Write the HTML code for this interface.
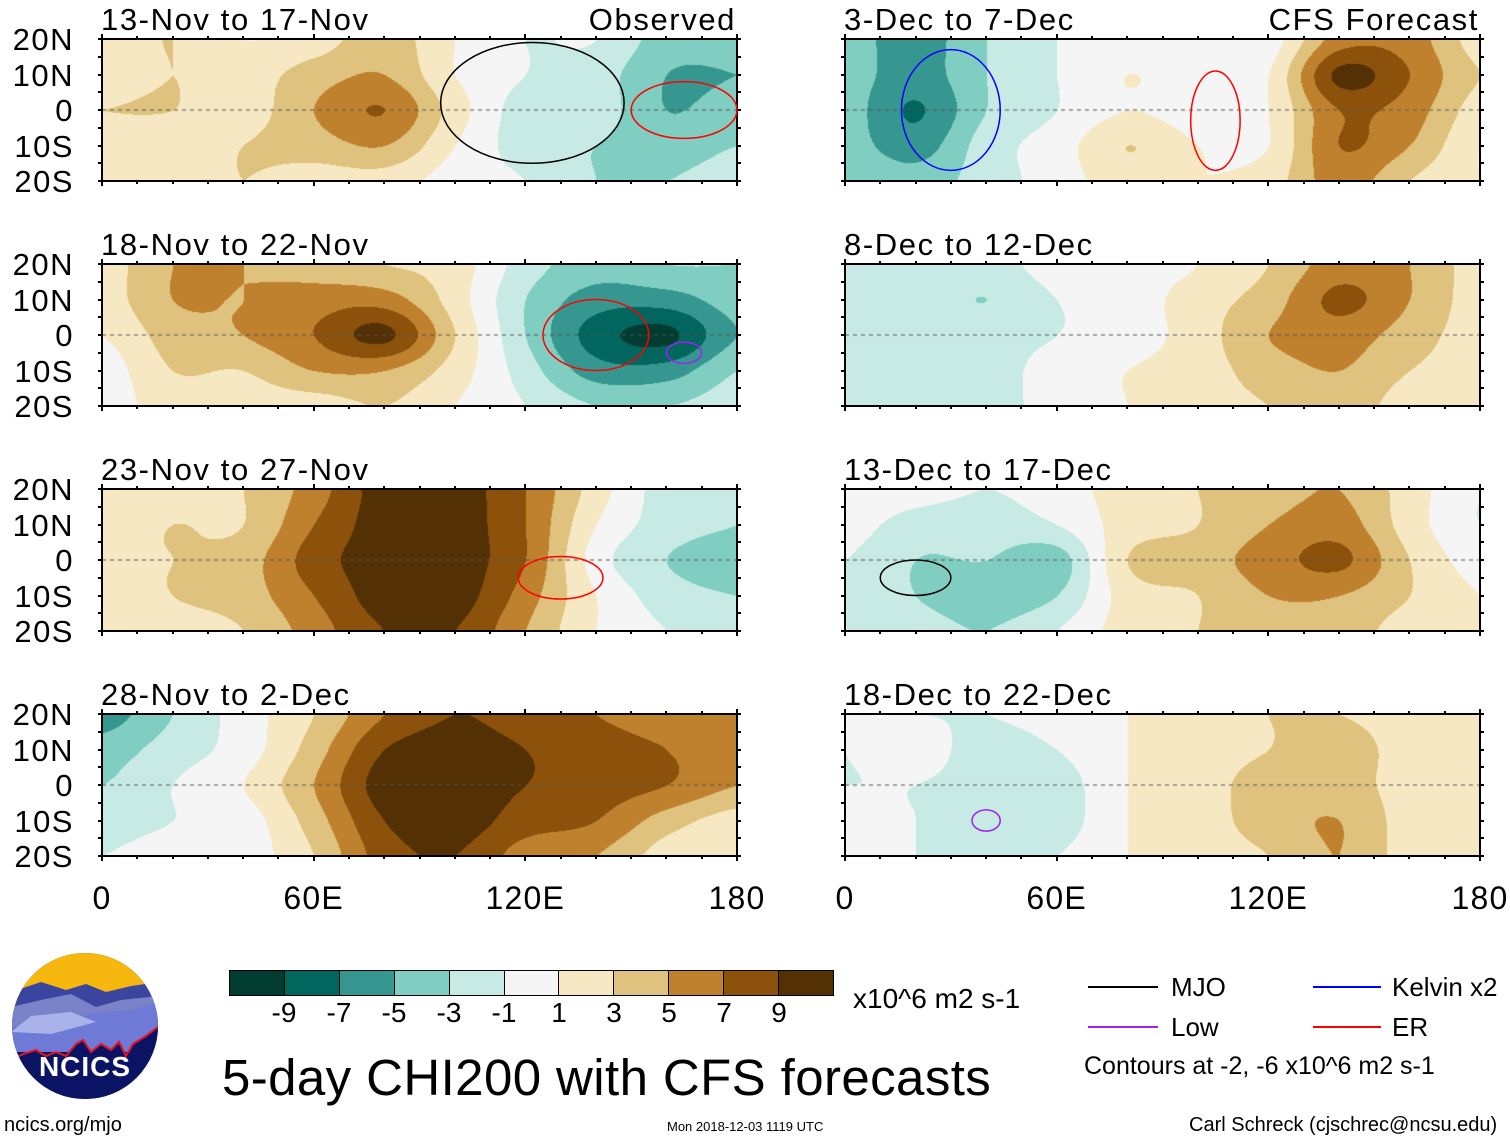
<!DOCTYPE html>
<html><head><meta charset="utf-8">
<style>
html,body{margin:0;padding:0;background:#fff;}
body{width:1510px;height:1142px;position:relative;overflow:hidden;font-family:"Liberation Sans",sans-serif;color:#000;}
.abs{position:absolute;white-space:nowrap;}
.frame{position:absolute;border:2px solid #000;box-sizing:border-box;}
.title{position:absolute;font-size:31px;line-height:31px;letter-spacing:1.6px;white-space:nowrap;}
.lat{position:absolute;font-size:31px;line-height:31px;width:74px;text-align:right;left:0;letter-spacing:1.5px;}
.xl{position:absolute;font-size:32px;line-height:32px;transform:translateX(-50%);top:882px;letter-spacing:1.2px;}
.cbl{position:absolute;font-size:28px;line-height:28px;top:999px;transform:translateX(-50%);}
.tk{position:absolute;background:#000;}
</style></head><body>
<div id="root"></div>
<svg id="lines" width="1510" height="1142" style="position:absolute;left:0;top:0;pointer-events:none"></svg>

<div id="cbar" class="abs" style="left:229px;top:970px;width:605px;height:26px;border:1px solid #000;box-sizing:border-box;display:flex"></div>
<div class="abs" style="left:853px;top:983px;font-size:28px">x10^6 m2 s-1</div>
<div class="abs" style="left:222px;top:1050px;font-size:51px;line-height:56px;letter-spacing:0.4px">5-day CHI200 with CFS forecasts</div>

<div class="abs" style="left:1088px;top:986px;width:70px;height:2px;background:#000"></div>
<div class="abs" style="left:1171px;top:972px;font-size:26px">MJO</div>
<div class="abs" style="left:1088px;top:1026px;width:70px;height:2px;background:#a020f0"></div>
<div class="abs" style="left:1171px;top:1012px;font-size:26px">Low</div>
<div class="abs" style="left:1313px;top:986px;width:68px;height:2px;background:#0000ff"></div>
<div class="abs" style="left:1392px;top:972px;font-size:26px">Kelvin x2</div>
<div class="abs" style="left:1313px;top:1026px;width:68px;height:2px;background:#ff0000"></div>
<div class="abs" style="left:1392px;top:1012px;font-size:26px">ER</div>
<div class="abs" style="left:1084px;top:1052px;font-size:25px">Contours at -2, -6 x10^6 m2 s-1</div>

<div class="abs" style="left:4px;top:1114px;font-size:20px">ncics.org/mjo</div>
<div class="abs" style="left:667px;top:1119px;font-size:13px">Mon 2018-12-03 1119 UTC</div>
<div class="abs" style="left:1189px;top:1114px;font-size:20px">Carl Schreck (cjschrec@ncsu.edu)</div>

<svg class="abs" style="left:11px;top:952px" width="148" height="150" viewBox="0 0 148 150">
<defs><clipPath id="cc"><circle cx="74" cy="74" r="73"/></clipPath></defs>
<g clip-path="url(#cc)">
<rect width="148" height="150" fill="#0b1464"/>
<rect width="148" height="70" fill="#f6b80e"/>
<path d="M0 40 L30 30 L55 38 L75 32 L95 40 L120 34 L148 30 L148 75 L0 75Z" fill="#3b45a0"/>
<path d="M0 55 L30 48 L60 42 L85 55 L110 48 L148 44 L148 85 L0 85Z" fill="#7a82c8"/>
<path d="M0 75 L40 66 L80 62 L120 58 L148 50 L148 100 L0 100Z" fill="#6f7ad6"/>
<path d="M0 80 L20 64 L60 60 L85 70 L40 82Z" fill="#a9b3ea"/>
<path d="M0 108 L12 102 L25 98 L35 104 L45 100 L55 104 L65 92 L72 88 L80 100 L90 92 L100 98 L108 90 L115 104 L122 92 L135 84 L148 74 L148 150 L0 150Z" fill="#0b1464" stroke="#e8141e" stroke-width="2"/>
</g>
<text x="74" y="124" text-anchor="middle" font-family="Liberation Sans" font-weight="bold" font-size="28" fill="#fff" letter-spacing="1">NCICS</text>
</svg>

<script>
const levelColors = ["#003c30","#01665e","#35978f","#80cdc1","#c7eae5","#f5f5f5","#f6e8c3","#dfc27d","#bf812d","#8c510a","#543005"];
const levelTicks = [-9,-7,-5,-3,-1,1,3,5,7,9];
const lonTicks = ["0","60E","120E","180"];
const latTicks = ["20N","10N","0","10S","20S"];
const gridLons = [0,20,40,60,80,100,120,140,160,180];
const gridLats = [20,10,0,-10,-20];
const panelTitles = ["13-Nov to 17-Nov","18-Nov to 22-Nov","23-Nov to 27-Nov","28-Nov to 2-Dec","3-Dec to 7-Dec","8-Dec to 12-Dec","13-Dec to 17-Dec","18-Dec to 22-Dec"];
const p1 = [[2,3,1,2,4,1,-1,-1,-4,-4],[2,3,2,4,5,1,-1,-2,-5,-5],[3,3,2,5,7,2,-2,-2,-5,-4],[2,2,3,4,5,1,-2,-3,-4,-3],[1,2,3,2,2,0,-1,-3,-3,-2]];
const p2 = [[2,5,5,4,3,2,-2,-4,-3,-3],[2,5,5,6,6,2,-3,-6,-6,-4],[1,4,5,7,9.5,3,-3,-8,-9.5,-5],[0,3,3,5,5,2,-2,-6,-6,-3],[0,2,2,2,3,1,-1,-3,-3,-2]];
const p3 = [[2,2,3,6,10,10,7,2,-2,-3],[2,3,3,7,10,10,7,1,-2,-3],[3,3,4,8,10,10,7,0,-3,-4],[2,3,4,7,10,10,6,1,-2,-3],[1,2,3,6,9,9,5,1,-1,-2]];
const p4 = [[-6,-3,0,3,7,9,8,7,6,6],[-4,-2,0,4,9,10,9,8,7,6],[-3,-1,1,5,10,10,9,8,7,5],[-2,-1,0,4,9,10,8,7,4,2],[-1,0,0,3,8,9,6,5,2,1]];
const p5 = [[-4,-6,-3,-1,0,0,0,6,6,2],[-4,-6,-3,-1,1,0,1,9.5,7,3],[-4,-7.2,-3,-1,1,0,1,7,6,2],[-4,-6,-2,0,3,1,1,7,5,1],[-3,-4,-2,0,2,1,2,6,3,1]];
const p6 = [[-2,-2,-2,0,0,1,3,6,5,2],[-2,-2,-3,-1,0,2,4,7.5,5,2],[-2,-2,-2,-1,0,2,5,6,4,2],[-2,-2,-2,0,1,2,4,5,3,2],[-1,-2,-2,0,1,2,3,4,2,1]];
const p7 = [[1,0,-1,0,2,3,4,5,2,-1],[0,-2,-2,-1,2,3,5,6,2,-1],[-1,-3,-3,-4,3,4,6,7.5,3,0],[-1,-3,-4,-3,2,3,5,5,3,1],[-1,-2,-3,-1,2,3,4,4,2,1]];
const p8 = [[-1,-1,-1,0,1,2,3,3,2,1],[-1,0,-2,-1,1,2,3,4,2,1],[-1,-1,-2,-2,1,2,4,4,2,1],[0,-1,-2,-2,1,2,4,5,2,1],[0,-1,-1,-1,1,2,3,5,2,1]];
const panelData = [p1,p2,p3,p4,p5,p6,p7,p8];

const W=635,H=142, colX=[102,845], rowY=[39,264,489,714];
function xScale(lon){return lon/180*W;}
function yScale(lat){return (20-lat)/40*H;}
function levelIndex(v){let i=0;while(i<levelTicks.length&&v>=levelTicks[i])i++;return i;}
function hex(c){return [parseInt(c.slice(1,3),16),parseInt(c.slice(3,5),16),parseInt(c.slice(5,7),16)];}
const rgb=levelColors.map(hex);
function cr(a,b,c,d,t){return 0.5*((2*b)+(-a+c)*t+(2*a-5*b+4*c-d)*t*t+(-a+3*b-3*c+d)*t*t*t);}
function sample(g,fx,fy){
  const nr=g.length,nc=g[0].length;
  const ix=Math.min(Math.floor(fx),nc-2),iy=Math.min(Math.floor(fy),nr-2);
  const tx=fx-ix,ty=fy-iy;
  const gv=(r,c)=>g[Math.max(0,Math.min(nr-1,r))][Math.max(0,Math.min(nc-1,c))];
  const rows=[];
  for(let r=-1;r<=2;r++){rows.push(cr(gv(iy+r,ix-1),gv(iy+r,ix),gv(iy+r,ix+1),gv(iy+r,ix+2),tx));}
  return cr(rows[0],rows[1],rows[2],rows[3],ty);
}
const root=document.getElementById('root');
function tick(x,y,w,h){
  const t=document.createElement('div');t.className='tk';
  t.style.cssText=`left:${x}px;top:${y}px;width:${w}px;height:${h}px`;
  
  
  root.appendChild(t);
}
panelData.forEach((g,k)=>{
  const col=k<4?0:1,row=k%4,x0=colX[col],y0=rowY[row];
  const cv=document.createElement('canvas');cv.width=W;cv.height=H;
  cv.style.cssText=`position:absolute;left:${x0}px;top:${y0}px`;
  
  
  root.appendChild(cv);
  const ctx=cv.getContext('2d'),img=ctx.createImageData(W,H);
  for(let py=0;py<H;py++)for(let px=0;px<W;px++){
    const lon=px/W*180,lat=20-py/H*40;
    const c=rgb[levelIndex(sample(g,lon/20,(20-lat)/10))],o=(py*W+px)*4;
    img.data[o]=c[0];img.data[o+1]=c[1];img.data[o+2]=c[2];img.data[o+3]=255;
  }
  ctx.putImageData(img,0,0);
  ctx.strokeStyle='#555';ctx.setLineDash([4,4]);ctx.lineWidth=1;
  ctx.beginPath();ctx.moveTo(0,yScale(0));ctx.lineTo(W,yScale(0));ctx.stroke();
  const fr=document.createElement('div');fr.className='frame';
  fr.style.cssText=`left:${x0-1}px;top:${y0-1}px;width:${W+2}px;height:${H+2}px`;
  
  
  root.appendChild(fr);
  for(let lon=0;lon<=180;lon+=10){
    const big=lon%60==0, len=big?6:4, x=x0+xScale(lon)-1;
    tick(x,y0-1-len+2,2,len);
    tick(x,y0+H-1,2,len);
  }
  for(let lat=-20;lat<=20;lat+=5){
    const y=y0+yScale(lat)-1;
    tick(x0-4,y,4,2);
    tick(x0+W,y,4,2);
  }
  const tt=document.createElement('div');tt.className='title';
  tt.style.left=(x0-1)+'px';tt.style.top=(y0-35)+'px';tt.textContent=panelTitles[k];
  
  
  root.appendChild(tt);
  if(col==0){
    latTicks.forEach((l,i)=>{
      const d=document.createElement('div');d.className='lat';
      d.style.top=(y0+yScale(gridLats[i])-15)+'px';d.textContent=l;
      
      
      root.appendChild(d);
    });
  }
});
[["Observed",736],["CFS Forecast",1479]].forEach(([t,r])=>{
  const d=document.createElement('div');d.className='title';
  d.style.right=(1510-r)+'px';d.style.top='4px';d.textContent=t;
  
  
  root.appendChild(d);
});
colX.forEach(x0=>{
  lonTicks.forEach((l,i)=>{
    const d=document.createElement('div');d.className='xl';
    d.style.left=(x0+xScale(i*60))+'px';d.textContent=l;
    
    
    root.appendChild(d);
  });
});
const cb=document.getElementById('cbar');
levelColors.forEach((c,i)=>{
  const b=document.createElement('div');
  b.style.cssText=`flex:1;background:${c};${i>0?'border-left:1px solid #000;':''}`;
  
  
  cb.appendChild(b);
});
levelTicks.forEach((v,i)=>{
  const d=document.createElement('div');d.className='cbl';
  d.style.left=(229+605/11*(i+1))+'px';d.textContent=v;
  
  
  root.appendChild(d);
});
const contourLon=[122,165,165,140,130,20,40,30,105];
const contourLat=[2,0,-5,0,-5,-5,-10,0,-3];
const contourRLon=[26,15,5,15,12,10,4,14,7];
const contourRLat=[17,8,3,10,6,5,3,17,14];
const contourPanel=[0,0,1,1,2,6,7,4,4];
const contourColor=["#000","#f00","#a020f0","#f00","#f00","#000","#a020f0","#00f","#f00"];
const svg=document.getElementById('lines');
contourLon.forEach((lon,i)=>{
  const k=contourPanel[i],x0=colX[k<4?0:1],y0=rowY[k%4];
  const e=document.createElementNS('http://www.w3.org/2000/svg','ellipse');
  e.setAttribute('cx',x0+xScale(lon));e.setAttribute('cy',y0+yScale(contourLat[i]));
  e.setAttribute('rx',xScale(contourRLon[i]));e.setAttribute('ry',contourRLat[i]/40*H);
  e.setAttribute('fill','none');e.setAttribute('stroke',contourColor[i]);e.setAttribute('stroke-width','1.5');
  
  
  svg.appendChild(e);
});
</script>
</body></html>
